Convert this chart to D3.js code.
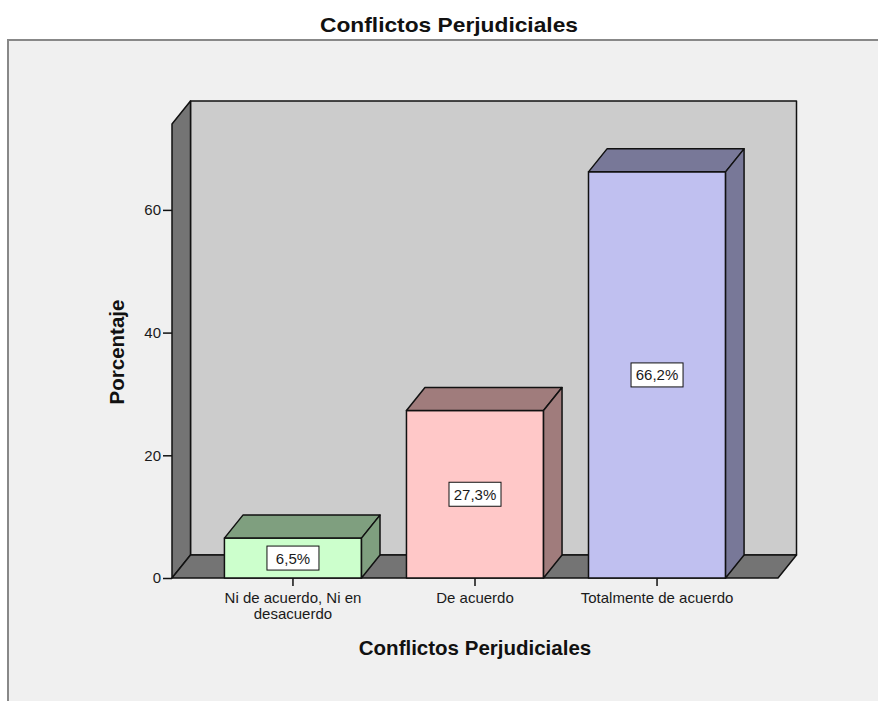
<!DOCTYPE html>
<html>
<head>
<meta charset="utf-8">
<script src="https://cdn.jsdelivr.net/npm/d3@7"></script>
<style>
  body { margin: 0; background: #fff; }
  svg { display: block; }
</style>
</head>
<body>
<svg id="chart" width="878" height="701"></svg>
<script>
// data
const categories = ["Ni de acuerdo, Ni en desacuerdo", "De acuerdo", "Totalmente de acuerdo"];
const catLines = [["Ni de acuerdo, Ni en", "desacuerdo"], ["De acuerdo"], ["Totalmente de acuerdo"]];
const values = [6.5, 27.3, 66.2];
const valueLabels = ["6,5%", "27,3%", "66,2%"];
const yTicks = [0, 20, 40, 60];
const frontColors = ["#ccffcc", "#ffc8c8", "#c0c0f0"];
const sideColors = ["#7f9f7f", "#a07c7c", "#787898"];

const font = "'Liberation Sans', Arial, sans-serif";
const dx = 18.5, dy = -23;   // depth offset of the 3d walls and bars

const svg = d3.select("#chart");

// frame
svg.append("rect")
    .attr("x", 8).attr("y", 40)
    .attr("width", 880).attr("height", 680)
    .attr("fill", "#f0f0f0")
    .attr("stroke", "#888").attr("stroke-width", 2);

svg.append("text")
    .attr("x", 449).attr("y", 32)
    .attr("text-anchor", "middle")
    .attr("font-family", font)
    .attr("font-weight", "bold")
    .attr("font-size", 21)
    .attr("textLength", 258)
    .attr("lengthAdjust", "spacingAndGlyphs")
    .attr("fill", "#111")
    .text("Conflictos Perjudiciales");

const x = d3.scaleBand()
    .domain(categories)
    .range([172, 778])
    .paddingInner(0.247)
    .paddingOuter(0.288);

const y = d3.scaleLinear()
    .domain([0, 74])
    .range([578, 124]);

const x0 = x.range()[0], x1 = x.range()[1];
const yb = y(0), yt = y(74);

const walls = svg.append("g")
    .attr("stroke", "#111").attr("stroke-width", 1.5)
    .attr("stroke-linejoin", "round");

// back wall
walls.append("polygon")
    .attr("points", [[x0 + dx, yt + dy], [x1 + dx, yt + dy], [x1 + dx, yb + dy], [x0 + dx, yb + dy]].join(" "))
    .attr("fill", "#cccccc");
// left wall
walls.append("polygon")
    .attr("points", [[x0, yb], [x0, yt], [x0 + dx, yt + dy], [x0 + dx, yb + dy]].join(" "))
    .attr("fill", "#747474");
// floor
walls.append("polygon")
    .attr("points", [[x0, yb], [x1, yb], [x1 + dx, yb + dy], [x0 + dx, yb + dy]].join(" "))
    .attr("fill", "#747474");

// bars
const bars = svg.append("g")
    .attr("stroke", "#111").attr("stroke-width", 1.5)
    .attr("stroke-linejoin", "round")
    .selectAll("g")
    .data(categories)
    .join("g");

bars.append("rect")
    .attr("x", d => x(d))
    .attr("y", (d, i) => y(values[i]))
    .attr("width", x.bandwidth())
    .attr("height", (d, i) => yb - y(values[i]))
    .attr("fill", (d, i) => frontColors[i]);

bars.append("polygon")
    .attr("points", (d, i) => {
        const l = x(d), r = l + x.bandwidth(), t = y(values[i]);
        return [[l, t], [l + dx, t + dy], [r + dx, t + dy], [r, t]].join(" ");
    })
    .attr("fill", (d, i) => sideColors[i]);

bars.append("polygon")
    .attr("points", (d, i) => {
        const r = x(d) + x.bandwidth(), t = y(values[i]);
        return [[r, t], [r + dx, t + dy], [r + dx, yb + dy], [r, yb]].join(" ");
    })
    .attr("fill", (d, i) => sideColors[i]);

// value labels
const labels = svg.append("g")
    .selectAll("g")
    .data(categories)
    .join("g")
    .attr("transform", (d, i) => `translate(${x(d) + x.bandwidth() / 2},${y(values[i] / 2)})`);

labels.append("rect")
    .attr("x", -26).attr("y", -12)
    .attr("width", 52).attr("height", 24)
    .attr("fill", "#fff")
    .attr("stroke", "#111").attr("stroke-width", 1);

labels.append("text")
    .attr("text-anchor", "middle")
    .attr("dominant-baseline", "central")
    .attr("font-family", font)
    .attr("font-size", 15)
    .attr("fill", "#1a1a1a")
    .text((d, i) => valueLabels[i]);

// y axis
const yAxis = svg.append("g")
    .attr("transform", `translate(${x0},0)`)
    .call(d3.axisLeft(y).tickValues(yTicks).tickSize(9).tickPadding(2));
yAxis.select(".domain").remove();
yAxis.selectAll("line").attr("stroke", "#111").attr("stroke-width", 1.5);
yAxis.selectAll("text")
    .attr("font-family", font).attr("font-size", 15).attr("fill", "#1a1a1a");

// x axis
const xAxis = svg.append("g")
    .attr("transform", `translate(0,${yb})`)
    .call(d3.axisBottom(x).tickSize(8).tickFormat(""));
xAxis.select(".domain").remove();
xAxis.selectAll("line").attr("stroke", "#111").attr("stroke-width", 1.5);

const catText = svg.append("g")
    .selectAll("text")
    .data(categories)
    .join("text")
    .attr("x", d => x(d) + x.bandwidth() / 2)
    .attr("y", 603)
    .attr("text-anchor", "middle")
    .attr("font-family", font)
    .attr("font-size", 15)
    .attr("fill", "#1a1a1a");
catText.selectAll("tspan")
    .data((d, i) => catLines[i])
    .join("tspan")
    .attr("x", function () { return this.parentNode.getAttribute("x"); })
    .attr("dy", (d, j) => j === 0 ? 0 : 16)
    .text(d => d);

// axis titles
svg.append("text")
    .attr("x", 475).attr("y", 655)
    .attr("text-anchor", "middle")
    .attr("font-family", font)
    .attr("font-weight", "bold")
    .attr("font-size", 20.5)
    .attr("fill", "#111")
    .text("Conflictos Perjudiciales");

svg.append("text")
    .attr("transform", "translate(124,352) rotate(-90)")
    .attr("text-anchor", "middle")
    .attr("font-family", font)
    .attr("font-weight", "bold")
    .attr("font-size", 20.5)
    .attr("fill", "#111")
    .text("Porcentaje");
</script>
</body>
</html>
